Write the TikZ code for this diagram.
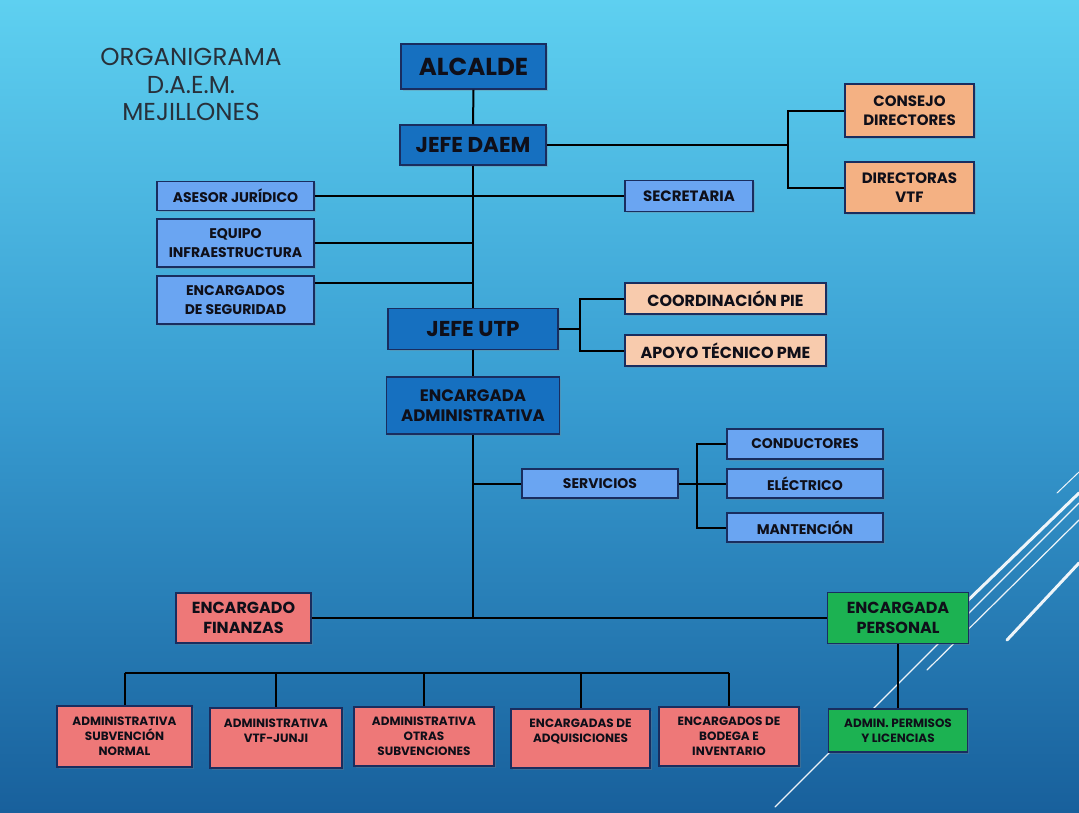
\documentclass[tikz,border=0pt]{standalone}
\usepackage{fontspec}
\setmainfont{Poppins}
\usetikzlibrary{shadows}
\definecolor{bgtop}{RGB}{94,208,240}
\definecolor{bgmid}{RGB}{55,155,208}
\definecolor{bgbot}{RGB}{24,96,156}
\definecolor{dkblue}{RGB}{22,112,192}
\definecolor{ltblue}{RGB}{106,165,242}
\definecolor{orng}{RGB}{244,177,131}
\definecolor{peach}{RGB}{248,203,173}
\definecolor{salmon}{RGB}{238,120,120}
\definecolor{grn}{RGB}{28,178,82}
\definecolor{boxline}{RGB}{25,45,95}
\definecolor{txt}{RGB}{15,15,25}
\definecolor{titletxt}{RGB}{40,48,58}
\tikzset{
  box/.style={draw=boxline, line width=1.5pt, inner sep=0pt, align=center, text=txt,
    drop shadow={opacity=0.3, shadow xshift=1.5pt, shadow yshift=-1.5pt}},
  conn/.style={draw=black, line width=2pt},
  deco/.style={draw=white, line cap=round, opacity=0.92},
  fbig/.style={font=\bfseries\fontsize{24.5}{28}\selectfont},
  fhead/.style={font=\bfseries\fontsize{21.5}{25}\selectfont},
  fmid/.style={font=\bfseries\fontsize{16}{19.5}\selectfont},
  fadm/.style={font=\bfseries\fontsize{16.6}{20}\selectfont},
  fpe/.style={font=\bfseries\fontsize{15}{19}\selectfont},
  fpie/.style={font=\bfseries\fontsize{16}{19}\selectfont},
  fsml/.style={font=\bfseries\fontsize{14}{18.5}\selectfont},
  fxs/.style={font=\bfseries\fontsize{12}{15}\selectfont}
}
\begin{document}
\begin{tikzpicture}[x=1pt,y=-1pt]
\useasboundingbox (0,0) rectangle (1079,812);
\shade[top color=bgtop, bottom color=bgbot, middle color=bgmid] (0,0) rectangle (1079,812);

% decorative lines
\draw[deco, line width=1pt] (1057,493) -- (1079,472);
\draw[deco, line width=3pt] (1079,493) -- (960,608);
\draw[deco, line width=1.2pt] (1079,503) -- (775,807);
\draw[deco, line width=1.2pt] (1079,520) -- (927,670);
\draw[deco, line width=3pt] (1079,563) -- (1007,640);

% title
\node[align=center, text=titletxt, font=\fontsize{24.5}{27.7}\selectfont] (title) at (191,84.5)
  {ORGANIGRAMA\\D.A.E.M.\\MEJILLONES};

% top chain
\node[box, fill=dkblue, fbig, minimum width=145pt, minimum height=45pt] (alc) at (473.5,66.5) {ALCALDE};
\node[box, fill=dkblue, fhead, minimum width=146pt, minimum height=40pt] (jd) at (473,145) {JEFE DAEM};
\node[box, fill=orng, fpe, minimum width=129pt, minimum height=53pt] (cons) at (909.5,110.5) {CONSEJO\\DIRECTORES};
\node[box, fill=orng, fpe, minimum width=129pt, minimum height=51pt] (dir) at (909.5,187.5) {DIRECTORAS\\VTF};
\node[box, fill=ltblue, fsml, minimum width=157pt, minimum height=29pt] (ase) at (235.5,196) {ASESOR JURÍDICO};
\node[box, fill=ltblue, fpe, minimum width=128pt, minimum height=31pt] (sec) at (689,196) {SECRETARIA};
\node[box, fill=ltblue, fsml, minimum width=157pt, minimum height=48pt] (equ) at (235.5,243) {EQUIPO\\INFRAESTRUCTURA};
\node[box, fill=ltblue, fsml, minimum width=157pt, minimum height=48pt] (seg) at (235.5,300) {ENCARGADOS\\DE SEGURIDAD};
\node[box, fill=dkblue, fhead, minimum width=170pt, minimum height=41pt] (utp) at (473,329) {JEFE UTP};
\node[box, fill=peach, fpie, minimum width=201pt, minimum height=31pt] (pie) at (725.5,298.5) {COORDINACIÓN PIE};
\node[box, fill=peach, fpie, minimum width=201pt, minimum height=31pt] (pme) at (725.5,350.5) {APOYO TÉCNICO PME};
\node[box, fill=dkblue, fadm, minimum width=173pt, minimum height=57pt] (adm) at (473,405.5) {ENCARGADA\\ADMINISTRATIVA};
\node[box, fill=ltblue, fsml, minimum width=156pt, minimum height=29pt] (serv) at (600,483.5) {SERVICIOS};
\node[box, fill=ltblue, fsml, minimum width=156pt, minimum height=30pt] (con) at (805,444) {CONDUCTORES};
\node[box, fill=ltblue, fsml, minimum width=156pt, minimum height=29pt] (ele) at (805,483.5) {ELÉCTRICO};
\node[box, fill=ltblue, fsml, minimum width=156pt, minimum height=29pt] (man) at (805,527.5) {MANTENCIÓN};
\node[box, fill=salmon, fmid, minimum width=135pt, minimum height=50pt] (fin) at (243.5,618) {ENCARGADO\\FINANZAS};
\node[box, fill=grn, fmid, minimum width=141pt, minimum height=51pt] (per) at (898,618) {ENCARGADA\\PERSONAL};
\node[box, fill=grn, fxs, minimum width=139pt, minimum height=43pt] (perm) at (898,730.5) {ADMIN. PERMISOS\\Y LICENCIAS};

% bottom row
\node[box, fill=salmon, fxs, minimum width=135pt, minimum height=61pt] (ba) at (124.5,736.5) {ADMINISTRATIVA\\SUBVENCIÓN\\NORMAL};
\node[box, fill=salmon, fxs, minimum width=132pt, minimum height=60pt] (bb) at (276,738) {ADMINISTRATIVA\\VTF-JUNJI\\\mbox{}};
\node[box, fill=salmon, fxs, minimum width=140pt, minimum height=59pt] (bc) at (424,736.5) {ADMINISTRATIVA\\OTRAS\\SUBVENCIONES};
\node[box, fill=salmon, fxs, minimum width=139pt, minimum height=59pt] (bd) at (580.5,738.5) {ENCARGADAS DE\\ADQUISICIONES\\\mbox{}};
\node[box, fill=salmon, fxs, minimum width=140pt, minimum height=59pt] (be) at (729,736.5) {ENCARGADOS DE\\BODEGA E\\INVENTARIO};

% helper coordinates
\coordinate (bx1) at (788,0);
\coordinate (bx2) at (580,0);
\coordinate (bx3) at (697,0);
\coordinate (bus) at (0,673);
\coordinate (segc) at ([yshift=-8pt]seg.north east);

% connectors
\draw[conn] (alc.south) -- (jd.north);
\draw[conn] (jd.south) -- (utp.north);
\draw[conn] (jd.east) -- (jd.east -| bx1);
\draw[conn] (cons.west) -- (cons.west -| bx1) -- (dir.west -| bx1) -- (dir.west);
\draw[conn] (ase.east) -- (sec.west);
\draw[conn] (equ.east) -- (equ.east -| jd.south);
\draw[conn] (segc) -- (segc -| jd.south);
\draw[conn] (utp.east) -- (utp.east -| bx2);
\draw[conn] (pie.west) -- (pie.west -| bx2) -- (pme.west -| bx2) -- (pme.west);
\draw[conn] (utp.south) -- (adm.north);
\draw[conn] (adm.south) -- (adm.south |- fin.east);
\draw[conn] (fin.east) -- (per.west);
\draw[conn] (serv.west -| adm.south) -- (serv.west);
\draw[conn] (serv.east) -- (ele.west);
\draw[conn] (con.west) -- (con.west -| bx3) -- (man.west -| bx3) -- (man.west);
\draw[conn] (per.south) -- (perm.north);
\draw[conn] (ba.north |- bus) -- (be.north |- bus);
\foreach \b in {ba,bb,bc,bd,be} {
  \draw[conn] (\b.north |- bus) -- (\b.north);
}
\end{tikzpicture}
\end{document}
